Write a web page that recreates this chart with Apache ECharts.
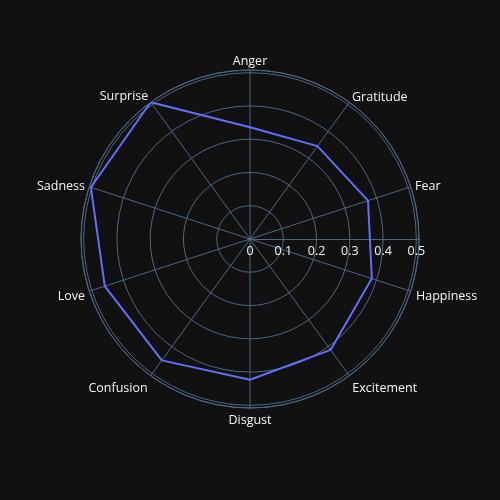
<!DOCTYPE html>
<html>
<head>
<meta charset="utf-8">
<script src="https://cdn.jsdelivr.net/npm/echarts@6/dist/echarts.min.js"></script>
<style>
html,body{margin:0;padding:0;background:#111111;}
#chart{width:500px;height:500px;}
</style>
</head>
<body>
<div id="chart"></div>
<script>
const categories = ['Anger','Gratitude','Fear','Happiness','Excitement','Disgust','Confusion','Love','Sadness','Surprise'];
const values = [0.336, 0.345, 0.373, 0.385, 0.412, 0.423, 0.451, 0.459, 0.503, 0.508];
const radialTicks = [0, 0.1, 0.2, 0.3, 0.4, 0.5];

// label padding [top, right, bottom, left] per category (layout only)
const labelPads = [
  [0, 0, 20, 0],
  [0, 0, 8.8, 7.4],
  [0, 0, 6.4, 11.9],
  [14.4, 0, 0, 12.9],
  [23.5, 0, 0, 7.7],
  [27.4, 0, 0, 0],
  [23.5, 7.7, 0, 0],
  [14.4, 11.9, 0, 0],
  [0, 11.9, 6.4, 0],
  [0, 7.1, 9.7, 0]
];

const rMax = 0.508;
const gridColor = '#506784';
const textColor = '#f2f5fa';
const font = '"Open Sans", Verdana, Arial, sans-serif';
const fs = 12.5;

const lineData = categories.map((c, i) => [values[i], i]);
lineData.push([values[0], categories.length]);

const rich = {};
labelPads.forEach((p, i) => {
  rich['c' + i] = { color: textColor, fontSize: fs, fontFamily: font, lineHeight: 14, padding: p };
});

const chart = echarts.init(document.getElementById('chart'));
chart.setOption({
  backgroundColor: '#111111',
  animation: false,
  polar: [
    { center: [250, 239], radius: 169 },
    { center: [250, 239], radius: 169 }
  ],
  angleAxis: [
    {
      polarIndex: 0,
      type: 'value',
      min: 0, max: categories.length, interval: 1,
      startAngle: 90,
      clockwise: true,
      axisLine: { show: true, lineStyle: { color: gridColor, width: 1 } },
      axisTick: { show: false },
      splitLine: { show: true, lineStyle: { color: gridColor, width: 1 } },
      axisLabel: {
        margin: -8,
        color: textColor, fontSize: fs, fontFamily: font,
        formatter: function (v) {
          const i = Math.round(v);
          if (i < 0 || i >= categories.length) return '';
          return '{c' + i + '|' + categories[i] + '}';
        },
        rich: rich
      }
    },
    {
      polarIndex: 1,
      type: 'value',
      min: 0, max: 360,
      startAngle: 0,
      clockwise: true,
      show: false
    }
  ],
  radiusAxis: [
    {
      polarIndex: 0,
      type: 'value',
      min: 0, max: rMax, interval: 0.1,
      axisLine: { show: false },
      axisTick: { show: false },
      axisLabel: { show: false },
      splitLine: { show: true, lineStyle: { color: gridColor, width: 1 } }
    },
    {
      polarIndex: 1,
      type: 'value',
      min: 0, max: rMax, interval: 0.1,
      axisLine: { show: true, lineStyle: { color: gridColor, width: 1 } },
      axisTick: { show: false },
      splitLine: { show: false },
      axisLabel: {
        show: true, color: textColor, fontSize: fs, fontFamily: font,
        showMaxLabel: false,
        margin: -6,
        verticalAlign: 'top',
        align: 'center',
        formatter: function (v) {
          const t = radialTicks.find(x => Math.abs(x - v) < 1e-6);
          return t === undefined ? '' : String(t);
        }
      }
    }
  ],
  series: [{
    type: 'line',
    coordinateSystem: 'polar',
    polarIndex: 0,
    data: lineData,
    showSymbol: false,
    symbol: 'none',
    lineStyle: { color: '#636efa', width: 2 },
    itemStyle: { color: '#636efa' }
  }]
});
</script>
</body>
</html>
